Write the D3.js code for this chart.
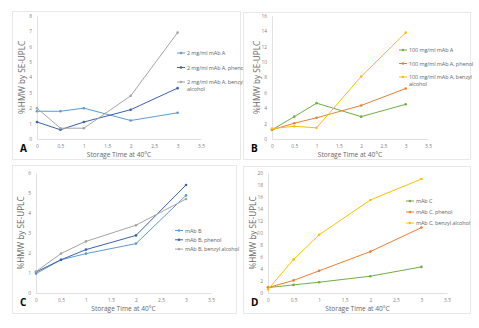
<!DOCTYPE html>
<html>
<head>
<meta charset="utf-8">
<script src="https://cdn.jsdelivr.net/npm/d3@7"></script>
<style>
  body { margin: 0; background: #fff; }
  text { font-family: "Open Sans", "Liberation Sans", sans-serif; }
</style>
</head>
<body>
<svg id="chart" width="479" height="328"></svg>
<script>
// storage time points (weeks)
var times = [0, 0.5, 1, 2, 3];
var xTicks = [0, 0.5, 1, 1.5, 2, 2.5, 3, 3.5];

// panel A
var namesA = ["2 mg/ml mAb A", "2 mg/ml mAb A, phenol", "2 mg/ml mAb A, benzyl alcohol"];
var plainA = [1.8, 1.8, 2.0, 1.2, 1.7];
var phenolA = [1.1, 0.6, 1.1, 1.9, 3.3];
var benzylA = [2.0, 0.7, 0.7, 2.8, 6.9];

// panel B
var namesB = ["100 mg/ml mAb A", "100 mg/ml mAb A, phenol", "100 mg/ml mAb A, benzyl alcohol"];
var plainB = [1.2, 2.9, 4.65, 2.9, 4.5];
var phenolB = [1.2, 2.05, 2.75, 4.35, 6.55];
var benzylB = [1.35, 1.65, 1.45, 8.1, 13.8];

// panel C
var namesC = ["mAb B", "mAb B, phenol", "mAb B, benzyl alcohol"];
var plainC = [0.97, 1.66, 1.97, 2.47, 4.88];
var phenolC = [1.05, 1.66, 2.17, 2.88, 5.4];
var benzylC = [1.07, 1.97, 2.58, 3.39, 4.7];

// panel D
var namesD = ["mAb C", "mAb C, phenol", "mAb C, benzyl alcohol"];
var plainD = [0.9, 1.35, 1.8, 2.8, 4.35];
var phenolD = [0.9, 2.1, 3.7, 6.9, 10.9];
var benzylD = [0.6, 5.6, 9.7, 15.5, 19.0];

var yMaxes = [8, 16, 6, 20];
var yStepsList = [1, 2, 1, 2];

var blues = ["#5b9bd5", "#3a62b0", "#a5a5a5"];
var warm = ["#70ad47", "#ed7d31", "#ffc000"];

var panels = [
  { letter: "A", names: namesA, series: [plainA, phenolA, benzylA], colors: blues, ymax: yMaxes[0], step: yStepsList[0],
    box: [12, 11, 240, 159], x: [37, 201], y: [139, 15.7], leg: [177, 53, 14.5], wrap: true },
  { letter: "B", names: namesB, series: [plainB, phenolB, benzylB], colors: warm, ymax: yMaxes[1], step: yStepsList[1],
    box: [243, 12, 470, 159], x: [272, 428], y: [139, 15.7], leg: [399, 50, 13.5], wrap: true },
  { letter: "C", names: namesC, series: [plainC, phenolC, benzylC], colors: blues, ymax: yMaxes[2], step: yStepsList[2],
    box: [12, 165, 236, 313], x: [36, 211], y: [293, 173], leg: [175, 230.5, 9.3], wrap: false },
  { letter: "D", names: namesD, series: [plainD, phenolD, benzylD], colors: warm, ymax: yMaxes[3], step: yStepsList[3],
    box: [243, 166, 470, 313], x: [268, 447], y: [293, 173], leg: [406, 201, 11], wrap: false }
];

var svg = d3.select("#chart");

panels.forEach(function (p) {
  var g = svg.append("g");

  g.append("rect")
    .attr("x", p.box[0] + 0.5).attr("y", p.box[1] + 0.5)
    .attr("width", p.box[2] - p.box[0]).attr("height", p.box[3] - p.box[1])
    .attr("fill", "#fff").attr("stroke", "#e3e3e3").attr("stroke-width", 0.8);

  var x = d3.scaleLinear().domain([0, 3.5]).range(p.x);
  var y = d3.scaleLinear().domain([0, p.ymax]).range(p.y);

  // axes
  var xAxis = g.append("g")
    .attr("transform", "translate(0," + p.y[0] + ")")
    .call(d3.axisBottom(x).tickValues(xTicks).tickSize(0).tickPadding(6).tickFormat(d3.format("")));
  var yAxis = g.append("g")
    .attr("transform", "translate(" + p.x[0] + ",0)")
    .call(d3.axisLeft(y).ticks(p.ymax / p.step).tickSize(0).tickPadding(5));
  [xAxis, yAxis].forEach(function (a) {
    a.select(".domain").attr("stroke", "#d9d9d9").attr("stroke-width", 0.8);
    a.selectAll("text").attr("fill", "#7f7f7f").style("font-size", "4.9px")
      .style("font-family", "'Open Sans', sans-serif");
  });

  // axis titles
  g.append("text")
    .attr("x", (p.x[0] + p.x[1]) / 2 - 0)
    .attr("y", p.y[0] + 18)
    .attr("text-anchor", "middle")
    .attr("fill", "#666")
    .style("font-size", "6.6px")
    .text("Storage Time at 40°C");
  g.append("text")
    .attr("transform", "translate(" + (p.x[0] - 12) + "," + ((p.y[0] + p.y[1]) / 2) + ") rotate(-90)")
    .attr("text-anchor", "middle")
    .attr("fill", "#6b6b6b")
    .style("font-size", "8.2px")
    .text("%HMW by SE-UPLC");

  // panel letter
  g.append("text")
    .attr("x", p.box[0] + 8)
    .attr("y", p.y[0] + 13)
    .attr("fill", "#000")
    .style("font-size", "10px")
    .style("font-weight", "bold")
    .text(p.letter);

  // lines
  var line = d3.line()
    .x(function (d, i) { return x(times[i]); })
    .y(function (d) { return y(d); });

  p.series.forEach(function (vals, si) {
    g.append("path")
      .datum(vals)
      .attr("d", line)
      .attr("fill", "none")
      .attr("stroke", p.colors[si])
      .attr("stroke-width", 1);
    g.selectAll(".pt" + si)
      .data(vals)
      .enter()
      .append("circle")
      .attr("cx", function (d, i) { return x(times[i]); })
      .attr("cy", function (d) { return y(d); })
      .attr("r", 1.3)
      .attr("fill", p.colors[si]);
  });

  // legend
  p.names.forEach(function (n, i) {
    var ly = p.leg[1] + i * p.leg[2];
    g.append("line")
      .attr("x1", p.leg[0]).attr("x2", p.leg[0] + 8)
      .attr("y1", ly).attr("y2", ly)
      .attr("stroke", p.colors[i]).attr("stroke-width", 1);
    g.append("circle")
      .attr("cx", p.leg[0] + 4).attr("cy", ly).attr("r", 1.2)
      .attr("fill", p.colors[i]);
    var t = g.append("text")
      .attr("x", p.leg[0] + 10)
      .attr("y", ly + 2)
      .attr("fill", "#666")
      .style("font-size", "5.5px")
      .style("letter-spacing", "-0.1px");
    if (p.wrap && n.indexOf("benzyl alcohol") >= 0) {
      t.text(n.replace(" alcohol", ""));
      g.append("text")
        .attr("x", p.leg[0] + 10)
        .attr("y", ly + 9)
        .attr("fill", "#666")
        .style("font-size", "5.5px")
        .style("letter-spacing", "-0.1px")
        .text("alcohol");
    } else {
      t.text(n);
    }
  });
});
</script>
</body>
</html>
